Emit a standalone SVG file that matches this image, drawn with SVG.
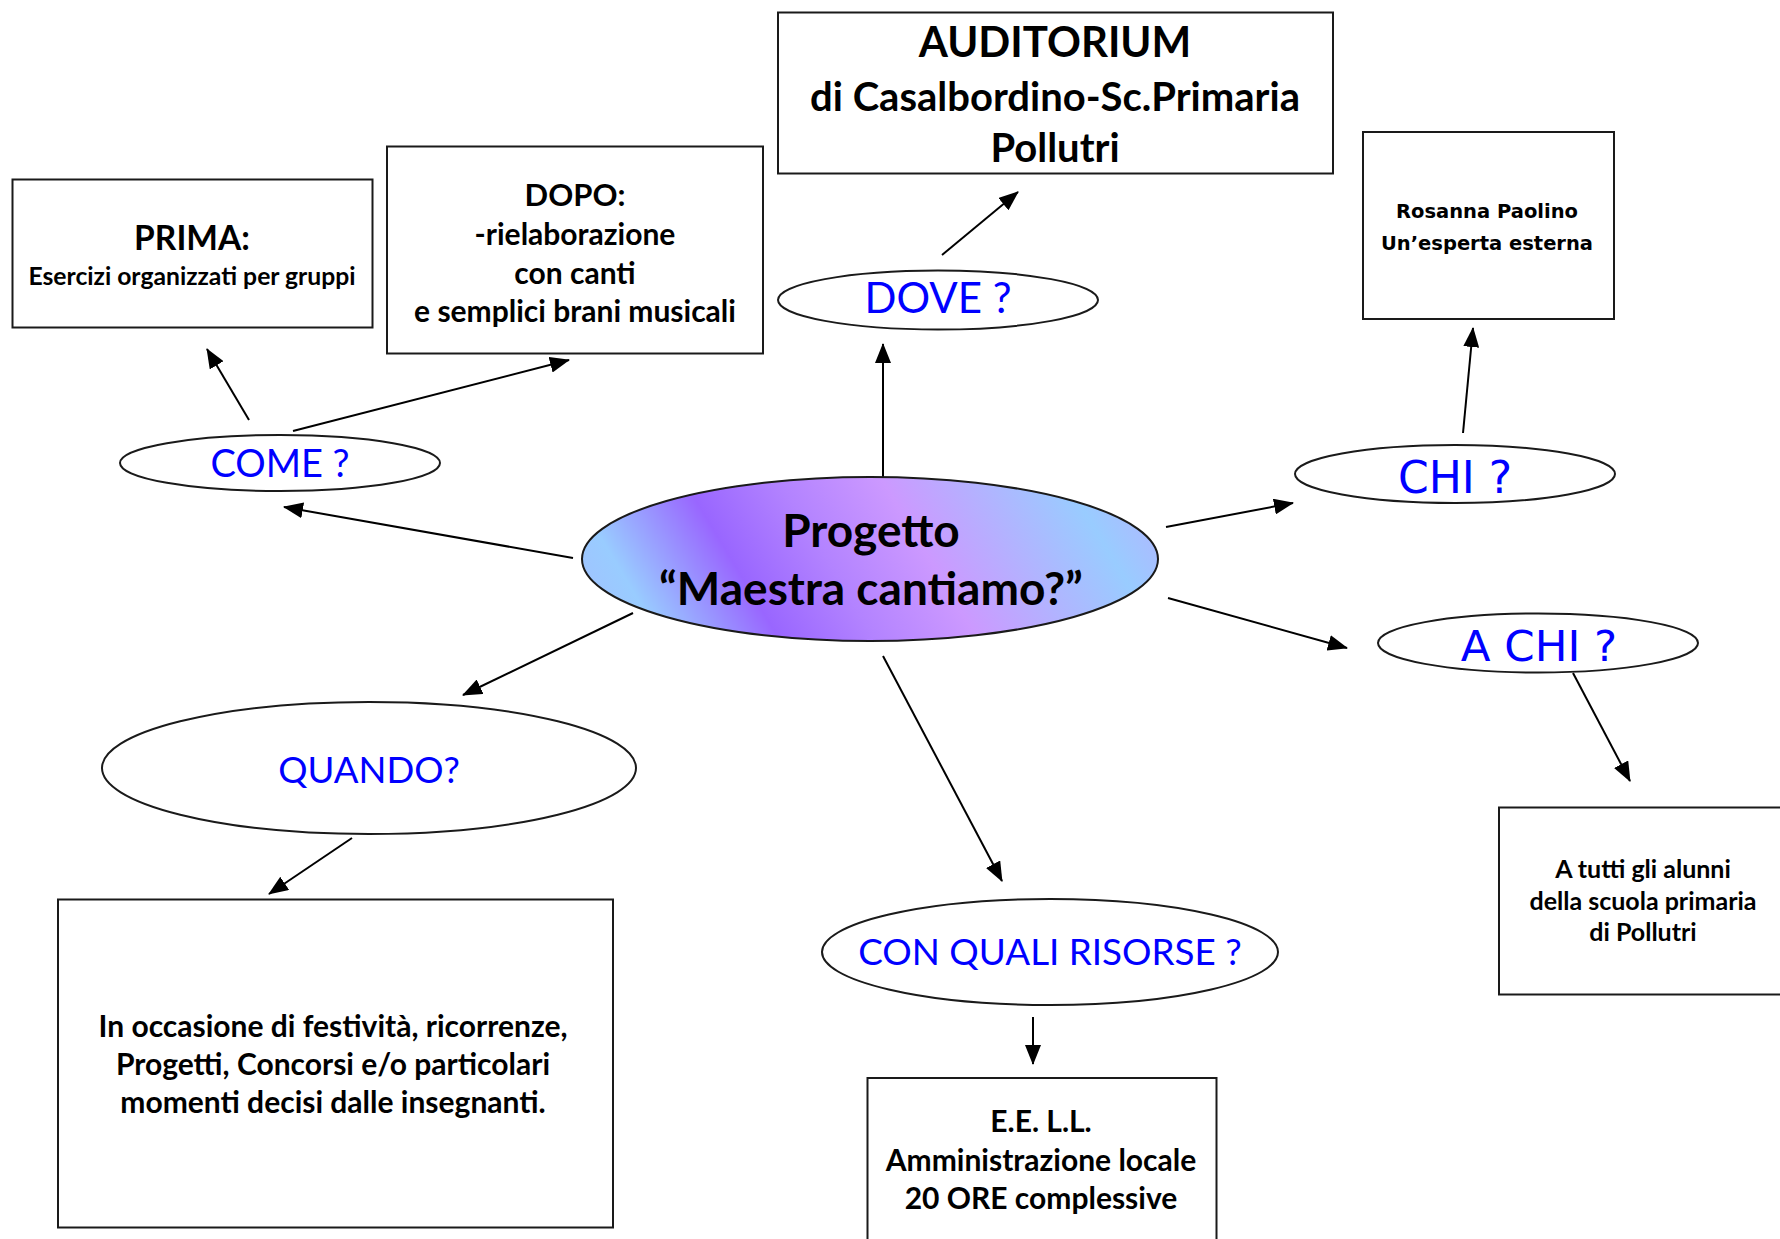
<svg xmlns="http://www.w3.org/2000/svg" width="1780" height="1239" viewBox="0 0 1780 1239">
<style>
  .box { fill: #ffffff; stroke: #1a1a1a; stroke-width: 2; }
  .ell { fill: #ffffff; stroke: #1a1a1a; stroke-width: 2; }
  .t { font-family: Lato, "Liberation Sans", sans-serif; font-weight: bold; fill: #000000; text-anchor: middle; }
  .q { font-family: Lato, "Liberation Sans", sans-serif; font-weight: normal; fill: #0000ff; text-anchor: middle; }
  .dq { font-family: "DejaVu Sans", sans-serif; font-weight: normal; fill: #0000ff; text-anchor: middle; }
  .dv { font-family: "DejaVu Sans", sans-serif; font-weight: bold; fill: #000000; text-anchor: middle; }
  .arr { stroke: #000000; stroke-width: 2; fill: none; marker-end: url(#ah); }
</style>
<defs>
  <marker id="ah" markerUnits="userSpaceOnUse" markerWidth="20" markerHeight="16" refX="19" refY="8" orient="auto">
    <path d="M0,0 L20,8 L0,16 z" fill="#000000"/>
  </marker>
  <linearGradient id="cg" gradientUnits="userSpaceOnUse" x1="600" y1="720" x2="1140" y2="396">
    <stop offset="0" stop-color="#a8b8ff"/>
    <stop offset="0.15" stop-color="#99ccff"/>
    <stop offset="0.31" stop-color="#9966ff"/>
    <stop offset="0.44" stop-color="#b383ff"/>
    <stop offset="0.58" stop-color="#cc99ff"/>
    <stop offset="0.83" stop-color="#99ccff"/>
    <stop offset="1" stop-color="#c0a8ff"/>
  </linearGradient>
</defs>
<rect width="1780" height="1239" fill="#ffffff"/>

<g id="connectors">
  <line class="arr" x1="573" y1="558" x2="284" y2="507"/>
  <line class="arr" x1="249" y1="420" x2="207" y2="349"/>
  <line class="arr" x1="293" y1="431" x2="569" y2="360"/>
  <line class="arr" x1="883" y1="486" x2="883" y2="344"/>
  <line class="arr" x1="942" y1="255" x2="1018" y2="192"/>
  <line class="arr" x1="1166" y1="527" x2="1293" y2="503"/>
  <line class="arr" x1="1463" y1="433" x2="1473" y2="328"/>
  <line class="arr" x1="1168" y1="598" x2="1347" y2="648"/>
  <line class="arr" x1="1573" y1="673" x2="1630" y2="781"/>
  <line class="arr" x1="633" y1="613" x2="463" y2="695"/>
  <line class="arr" x1="352" y1="838" x2="269" y2="894"/>
  <line class="arr" x1="883" y1="656" x2="1002" y2="881"/>
  <line class="arr" x1="1033" y1="1017" x2="1033" y2="1064"/>
</g>

<g id="center">
  <ellipse cx="870" cy="559" rx="288" ry="82" fill="url(#cg)" stroke="#1a1a1a" stroke-width="2"/>
  <text class="t" x="871" y="547" font-size="46">Progetto</text>
  <text class="t" x="871" y="605" font-size="46">“Maestra cantiamo?”</text>
</g>

<g id="auditorium">
  <rect class="box" x="778" y="12.5" width="555" height="161"/>
  <text class="t" x="1055" y="57" font-size="42">AUDITORIUM</text>
  <text class="t" x="1055" y="111" font-size="40">di Casalbordino-Sc.Primaria</text>
  <text class="t" x="1055" y="162" font-size="40">Pollutri</text>
</g>

<g id="prima">
  <rect class="box" x="12.5" y="179.5" width="360" height="148"/>
  <text class="t" x="192" y="250" font-size="33.5">PRIMA:</text>
  <text class="t" x="192" y="285" font-size="24.7">Esercizi organizzati per gruppi</text>
</g>

<g id="dopo">
  <rect class="box" x="387" y="146.5" width="376" height="207"/>
  <text class="t" x="575" y="206" font-size="31">DOPO:</text>
  <text class="t" x="575" y="245" font-size="30">-rielaborazione</text>
  <text class="t" x="575" y="284" font-size="30">con canti</text>
  <text class="t" x="575" y="322" font-size="30">e semplici brani musicali</text>
</g>

<g id="dove">
  <ellipse class="ell" cx="938" cy="300" rx="160" ry="29.5"/>
  <text class="q" x="938" y="313" font-size="42">DOVE ?</text>
</g>

<g id="come">
  <ellipse class="ell" cx="280" cy="463" rx="160" ry="28"/>
  <text class="q" x="280" y="477" font-size="38">COME ?</text>
</g>

<g id="chi">
  <ellipse class="ell" cx="1455" cy="474" rx="160" ry="29"/>
  <text class="dq" x="1455" y="493" font-size="44">CHI ?</text>
</g>

<g id="rosanna">
  <rect class="box" x="1363" y="132" width="251" height="187"/>
  <text class="dv" x="1487" y="218" font-size="19.5">Rosanna Paolino</text>
  <text class="dv" x="1487" y="250" font-size="19.5">Un’esperta esterna</text>
</g>

<g id="achi">
  <ellipse class="ell" cx="1538" cy="643" rx="160" ry="29.5"/>
  <text class="dq" x="1539" y="661" font-size="43.5">A CHI ?</text>
</g>

<g id="atutti">
  <rect class="box" x="1499" y="807.5" width="300" height="187"/>
  <text class="t" x="1643" y="878" font-size="25">A tutti gli alunni</text>
  <text class="t" x="1643" y="910" font-size="25">della scuola primaria</text>
  <text class="t" x="1643" y="941" font-size="25">di Pollutri</text>
</g>

<g id="quando">
  <ellipse class="ell" cx="369" cy="768" rx="267" ry="66"/>
  <text class="q" x="369" y="783" font-size="36.6">QUANDO?</text>
</g>

<g id="occasione">
  <rect class="box" x="58" y="899.5" width="555" height="328"/>
  <text class="t" x="333" y="1037" font-size="30">In occasione di festività, ricorrenze,</text>
  <text class="t" x="333" y="1075" font-size="30">Progetti, Concorsi e/o particolari</text>
  <text class="t" x="333" y="1113" font-size="30">momenti decisi dalle insegnanti.</text>
</g>

<g id="risorse">
  <ellipse class="ell" cx="1050" cy="952" rx="228" ry="53"/>
  <text class="q" x="1050" y="965" font-size="36.8">CON QUALI RISORSE ?</text>
</g>

<g id="eell">
  <rect class="box" x="867.5" y="1078" width="349" height="190"/>
  <text class="t" x="1041" y="1132" font-size="30">E.E. L.L.</text>
  <text class="t" x="1041" y="1171" font-size="30">Amministrazione locale</text>
  <text class="t" x="1041" y="1209" font-size="30">20 ORE complessive</text>
</g>
</svg>
